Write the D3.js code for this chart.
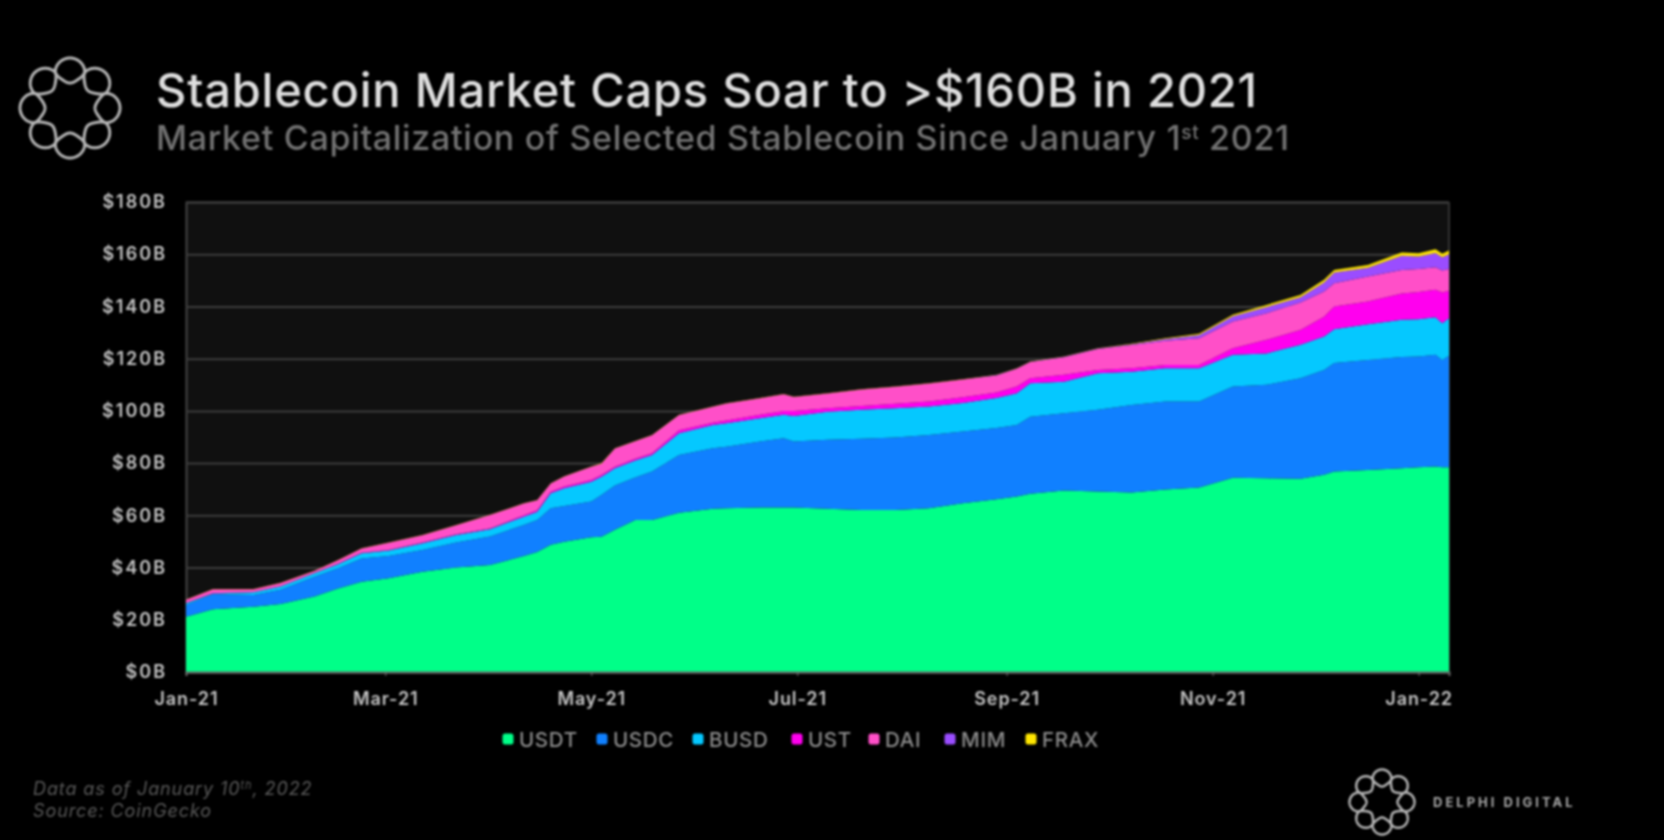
<!DOCTYPE html>
<html>
<head>
<meta charset="utf-8">
<script src="https://cdn.jsdelivr.net/npm/d3@7"></script>
<style>
  html, body { margin: 0; background: #000; overflow: hidden; }
  svg { display: block; filter: blur(0.8px); }
  text { font-family: "Inter", sans-serif; }
</style>
</head>
<body>
<svg id="chart" width="1664" height="840"></svg>
<script>
// stablecoin market caps, stacked area, values in $B
const dates = ["2021-01-01","2021-01-09","2021-01-21","2021-01-29","2021-02-08","2021-02-15","2021-02-22","2021-03-02","2021-03-12","2021-03-22","2021-04-01","2021-04-11","2021-04-15","2021-04-19","2021-04-23","2021-05-01","2021-05-04","2021-05-08","2021-05-14","2021-05-19","2021-05-27","2021-06-06","2021-06-10","2021-06-20","2021-06-27","2021-06-30","2021-07-10","2021-07-20","2021-07-30","2021-08-09","2021-08-19","2021-08-29","2021-09-04","2021-09-08","2021-09-18","2021-09-28","2021-10-08","2021-10-18","2021-10-28","2021-11-07","2021-11-17","2021-11-27","2021-12-04","2021-12-07","2021-12-17","2021-12-27","2022-01-01","2022-01-06","2022-01-08","2022-01-10"];
const usdt = [21.2,24,25,26,28.9,32,34.6,35.9,38.4,40,41,44.4,46,48.7,49.9,51.6,51.8,54.5,58.2,58.2,61,62.5,62.7,63,63,63,62.5,62,62,62.7,64.6,66.2,67.2,68.3,69.5,69.1,68.7,69.9,70.7,74.4,74.2,74,75.5,76.8,77.4,78,78.4,78.7,78.4,78.4];
const usdc = [4.5,5.9,4.5,5.5,7.6,7.7,8.9,8.5,8.3,9.6,10.9,11.9,12.2,14,13.7,13.7,16,16.9,16.3,18.6,22.1,23.2,23.6,25.3,26.5,25.3,26.4,27.3,27.8,28.1,27.5,27.2,27.4,29.5,29.6,31.3,33.6,33.7,32.9,34.9,35.8,38.5,40.2,41.5,42.1,42.6,42.4,42.8,41.1,42.7];
const busd = [0.6,0.2,1,1.2,1.3,1.6,2,2.1,2.6,2.9,2.8,3.2,3.2,5.8,6.8,7.6,7,6.6,6.5,6.3,8.3,8.9,9,8.9,9,9.7,10.8,11.1,11.2,10.9,10.9,11.5,12.2,12.8,12.1,14,12.7,12.7,12.7,12.2,12,12.8,12.8,13,13.7,14.3,14.3,14.4,14.1,14.4];
const ust = [0.1,0.1,0.1,0.1,0.1,0.2,0.2,0.2,0.3,0.3,0.3,0.5,0.5,0.5,0.6,0.6,0.6,0.6,0.7,0.7,1.2,0.9,1,1.3,1.5,2,1.3,1.5,1.7,1.9,2.2,2.1,2.5,1.9,2.6,1.3,1.3,1.3,1.3,2.5,5.2,5.7,7.6,8.7,8.7,10.1,10.4,10.5,11.7,10.5];
const dai = [1.3,1.5,1.1,1.3,0.8,1.3,1.6,2.8,2.8,3.4,5.1,4.5,3.9,3.2,3.9,5.1,4.4,7,6.7,6.9,5.8,6.1,6.5,6.3,6.4,5.3,5.7,6.3,6.5,6.9,6.8,6.6,6.8,6.2,6.7,8,8.9,9.3,10.2,10.2,10.2,10.5,9.6,8.9,9.6,9,8.8,8.6,8.5,8.3];
const mim = [0,0,0,0,0,0,0,0,0,0,0,0,0,0,0,0,0,0,0,0,0,0,0,0,0,0,0,0,0,0,0,0.1,0.1,0.1,0.2,0.2,0.3,0.6,1.3,2,2.4,2,3.5,4.1,3.3,5.4,4.8,5.5,5,5.7];
const frax = [0.1,0.1,0.1,0.1,0.1,0.1,0.1,0.1,0.1,0.1,0.1,0.1,0.1,0.1,0.1,0.1,0.1,0.1,0.1,0.1,0.1,0.1,0.1,0.1,0.1,0.1,0.1,0.1,0.1,0.1,0.1,0.1,0.1,0.1,0.1,0.1,0.2,0.3,0.4,0.6,0.8,0.9,1,1,1.1,1.3,1.3,1.4,1.4,1.4];
const coins = ["USDT","USDC","BUSD","UST","DAI","MIM","FRAX"];
const coinValues = [usdt, usdc, busd, ust, dai, mim, frax];
const colors = ["#00ff88","#1080ff","#05c8ff","#ff00ee","#ff4fc8","#9a4dff","#ffe600"];
const yTicks = [0,20,40,60,80,100,120,140,160,180];

const margin = {top: 202, left: 186, bottom: 672, right: 1449};
const parseDate = d3.utcParse("%Y-%m-%d");
const svg = d3.select("#chart");

const rows = dates.map((d, i) => {
    const row = {date: parseDate(d)};
    coins.forEach((c, j) => row[c] = coinValues[j][i]);
    return row;
});

const xScale = d3.scaleUtc()
    .domain([parseDate("2021-01-01"), parseDate("2022-01-10")])
    .range([margin.left, margin.right]);
const yScale = d3.scaleLinear()
    .domain([0, 180])
    .range([margin.bottom, margin.top]);

// plot background
svg.append("rect")
    .attr("x", margin.left)
    .attr("y", margin.top)
    .attr("width", margin.right - margin.left)
    .attr("height", margin.bottom - margin.top)
    .attr("fill", "#101010");

// AXES
const yAxis = d3.axisLeft(yScale)
    .tickValues(yTicks)
    .tickSize(-(margin.right - margin.left))
    .tickFormat(d => `$${d}B`);
const yG = svg.append("g")
    .attr("transform", `translate(${margin.left},0)`)
    .call(yAxis);
yG.select(".domain").attr("stroke", "#444").attr("stroke-width", 2);
yG.selectAll(".tick line").attr("stroke", "#3c3c3c").attr("stroke-width", 2);
yG.selectAll(".tick text")
    .attr("x", -19)
    .attr("fill", "#c4c4c4")
    .attr("font-size", 18)
    .attr("font-weight", 600)
    .attr("letter-spacing", 2);

// right edge
svg.append("line")
    .attr("x1", margin.right).attr("x2", margin.right)
    .attr("y1", margin.top).attr("y2", margin.bottom)
    .attr("stroke", "#333").attr("stroke-width", 2);

// STACKED AREAS
const stacked = d3.stack().keys(coins)(rows);
const area = d3.area()
    .x(d => xScale(d.data.date))
    .y0(d => yScale(d[0]))
    .y1(d => yScale(d[1]));
svg.selectAll(".layer")
    .data(stacked)
    .join("path")
    .attr("class", "layer")
    .attr("d", area)
    .attr("fill", (d, i) => colors[i]);

const xAxis = d3.axisBottom(xScale)
    .ticks(d3.utcMonth.every(2))
    .tickSize(4)
    .tickFormat(d3.utcFormat("%b-%y"));
const xG = svg.append("g")
    .attr("transform", `translate(0,${margin.bottom})`)
    .call(xAxis);
xG.select(".domain").attr("stroke", "#666").attr("stroke-width", 2);
xG.selectAll(".tick line").attr("stroke", "#777");
xG.selectAll(".tick text")
    .attr("y", 20)
    .attr("fill", "#c4c4c4")
    .attr("font-size", 18)
    .attr("font-weight", 600)
    .attr("letter-spacing", 0.9);

// TITLES
svg.append("text")
    .text("Stablecoin Market Caps Soar to >$160B in 2021")
    .attr("x", 156).attr("y", 107)
    .attr("fill", "#dedede")
    .attr("font-size", 47)
    .attr("font-weight", 500)
    .attr("letter-spacing", 0.8);

const subtitle = svg.append("text")
    .attr("x", 156).attr("y", 150)
    .attr("fill", "#727272")
    .attr("font-size", 34)
    .attr("font-weight", 500)
    .attr("letter-spacing", 0.7);
subtitle.append("tspan").text("Market Capitalization of Selected Stablecoin Since January 1");
subtitle.append("tspan").text("st").attr("font-size", 19).attr("dy", -11);
subtitle.append("tspan").text(" 2021").attr("dy", 11);

// LEGEND
const legendX = [502.5, 596.5, 692.5, 791.5, 868.5, 944.5, 1025.5];
const legend = svg.selectAll(".legend-item")
    .data(coins)
    .join("g")
    .attr("class", "legend-item")
    .attr("transform", (d, i) => `translate(${legendX[i]},739)`);
legend.append("rect")
    .attr("y", -5.5).attr("width", 11).attr("height", 11).attr("rx", 2.5)
    .attr("fill", (d, i) => colors[i]);
legend.append("text")
    .text(d => d)
    .attr("x", 16.5).attr("y", 7.5)
    .attr("fill", "#8c8c8c")
    .attr("font-size", 20.5)
    .attr("font-weight", 500)
    .attr("letter-spacing", 0.7);

// FOOTER
const note = svg.append("text")
    .attr("x", 33).attr("y", 795)
    .attr("fill", "#595959")
    .attr("font-size", 18)
    .attr("font-style", "italic")
    .attr("letter-spacing", 0.9);
note.append("tspan").text("Data as of January 10");
note.append("tspan").text("th").attr("font-size", 11).attr("dy", -6);
note.append("tspan").text(", 2022").attr("dy", 6);
svg.append("text")
    .text("Source: CoinGecko")
    .attr("x", 33).attr("y", 817)
    .attr("fill", "#595959")
    .attr("font-size", 18)
    .attr("font-style", "italic")
    .attr("letter-spacing", 0.9);

// LOGOS - two braided rings make the eight loops
// the power flattens the wave so the loops come out round, not star shaped
const drawLogo = (cx, cy, ringR, loopR, strokeW) => {
    const g = svg.append("g").attr("transform", `translate(${cx},${cy})`);
    const angles = d3.range(0, 361, 1).map(a => a * Math.PI / 180);
    const wave = a => {
        const c = Math.cos(4 * a);
        return Math.sign(c) * Math.pow(Math.abs(c), 0.6);
    };
    [1, -1].forEach(sign => {
        const ring = d3.lineRadial()
            .angle(a => a)
            .radius(a => ringR + sign * loopR * wave(a));
        g.append("path")
            .attr("d", ring(angles))
            .attr("fill", "none")
            .attr("stroke", "#b4b4b4")
            .attr("stroke-width", strokeW);
    });
};
drawLogo(70, 108, 37.5, 12.5, 3);
drawLogo(1382, 802, 24, 8.5, 2.5);

svg.append("text")
    .text("DELPHI DIGITAL")
    .attr("x", 1433).attr("y", 807)
    .attr("fill", "#a8a8a8")
    .attr("font-size", 13)
    .attr("font-weight", 700)
    .attr("letter-spacing", 3);
</script>
</body>
</html>
